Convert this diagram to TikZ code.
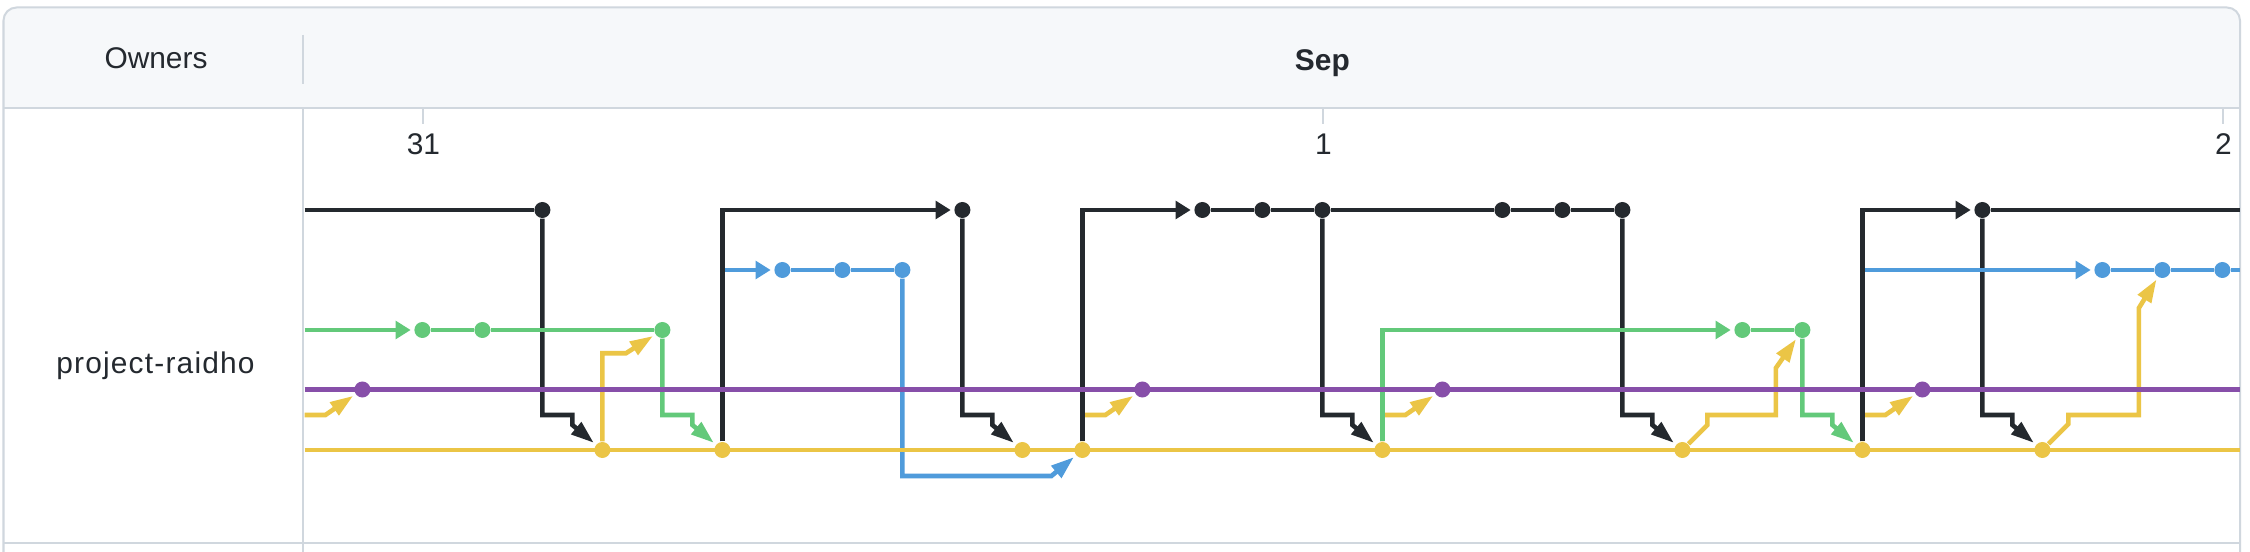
\documentclass[tikz,border=0pt]{standalone}
\usepackage{fontspec}
\setmainfont{Liberation Sans}
\newfontfamily\repofont[LetterSpace=4]{Liberation Sans}
\usetikzlibrary{arrows.meta,calc,backgrounds,positioning}
\definecolor{cblack}{HTML}{24292E}
\definecolor{cblue}{HTML}{4F9BDB}
\definecolor{cgreen}{HTML}{63C97A}
\definecolor{cpurple}{HTML}{874FA9}
\definecolor{cyellow}{HTML}{EBC546}
\definecolor{cborder}{HTML}{D0D7DE}
\definecolor{cheader}{HTML}{F6F8FA}
\definecolor{ctext}{HTML}{24292F}
\tikzset{
  lane/.style={line width=0.046cm},
  dot/.style={circle, fill=#1, inner sep=0pt, minimum size=0.16cm},
  lanetip/.style={-{Triangle[length=0.15cm,width=0.175cm]}, shorten >=0.03cm},
  mergetip/.style={-{Triangle[length=0.23cm,width=0.15cm]}, shorten >=0.025cm},
  gridline/.style={draw=cborder, line width=0.02cm},
  txt/.style={font=\fontsize{8.5}{10}\selectfont, text=ctext, inner sep=0pt, anchor=base},
}

\begin{document}
\begin{tikzpicture}[x=0.01cm, y=-0.01cm]
  \useasboundingbox (0,0) rectangle (2250,552);

  % Labels
  \node[txt] (owners) at (156,68.3) {Owners};
  \node[txt, font=\fontsize{8.5}{10}\selectfont\bfseries] (sep) at (1322.4,70.7) {Sep};
  \node[txt] (repo) at (155.5,373.3) {\repofont project-raidho};
  \foreach \k/\d in {2/31,17/1,32/2}
    \node[txt] (day\d) at ({303.4+60*\k},155) {\d};

  % Commits
  \foreach \k in {4,11,15,16,17,20,21,22,28}
    \node[dot=cblack] (blk\k) at ({302.4+60*\k},210) {};
  \foreach \k in {8,9,10,30,31,32}
    \node[dot=cblue] (blu\k) at ({302.4+60*\k},270) {};
  \foreach \k in {2,3,6,24,25}
    \node[dot=cgreen] (grn\k) at ({302.4+60*\k},330) {};
  \foreach \k in {1,14,19,27}
    \node[dot=cpurple] (pur\k) at ({302.4+60*\k},389.5) {};
  \foreach \k in {5,7,12,13,18,23,26,29}
    \node[dot=cyellow] (yel\k) at ({302.4+60*\k},450) {};

  % Lane ends
  \coordinate (blkL) at (304.5,210);
  \coordinate (blkR) at (2240,210);
  \coordinate (bluR) at (2240,270);
  \coordinate (grnL) at (304.5,330);
  \coordinate (purL) at (304.5,389.5);
  \coordinate (purR) at (2240,389.5);
  \coordinate (yelS) at (304.5,415);
  \coordinate (yelL) at (304.5,450);
  \coordinate (yelR) at (2240,450);

  \begin{pgfonlayer}{background}
    % Table
    \fill[white] (0,0) rectangle (2250,552);
    \fill[cheader, rounded corners=0.13cm] (3.5,7.5) rectangle (2240,200);
    \fill[white] (3.5,108.3) rectangle (2240,552);
    \draw[gridline, rounded corners=0.13cm] (3.5,560) -- (3.5,7.5) -- (2240,7.5) -- (2240,560);
    \draw[gridline] (3.5,108.3) -- (2240,108.3);
    \draw[gridline] (3.5,543.5) -- (2240,543.5);
    \draw[gridline] (303.3,35) -- (303.3,84);
    \draw[gridline] (303.3,108.3) -- (303.3,552);
    \foreach \k in {2,17,32}
      \draw[gridline] ({303.4+60*\k},108.3) -- ++(0,16);

    % Yellow side branches
    \draw[lane, cyellow, mergetip] (yelS) -- ($(pur1)+(-37,25.5)$) -- (pur1);
    \foreach \s/\t in {yel13/pur14, yel18/pur19, yel26/pur27}
      \draw[lane, cyellow, mergetip] (\s) |- ($(\t)+(-37,25.5)$) -- (\t);
    \draw[lane, cyellow, mergetip] (yel5) |- ($(grn6)+(-36.5,23.3)$) -- (grn6);
    \draw[lane, cyellow, mergetip] (yel23) -- ++(25,-25) -- ++(0,-10) -| ($(grn25)+(-26.5,38)$) -- (grn25);
    \draw[lane, cyellow, mergetip] (yel29) -- ++(26,-26) -- ++(0,-9) -| ($(blu31)+(-23.5,38)$) -- (blu31);

    % Merges into the yellow lane
    \foreach \s/\t/\c in {blk4/yel5/cblack, grn6/yel7/cgreen, blk11/yel12/cblack, blk17/yel18/cblack,
                          blk22/yel23/cblack, grn25/yel26/cgreen, blk28/yel29/cblack}
      \draw[lane, \c, mergetip] (\s) |- ($(\t)+(-30,-35)$) -- ($(\t)+(-30,-25)$) -- (\t);
    \draw[lane, cblue, mergetip] (blu10) |- ($(yel13)+(-31,26)$) -- (yel13);

    % Branches out of the yellow lane
    \draw[lane, cblue, lanetip] (yel7) |- (blu8);
    \draw[lane, cblue, lanetip] (yel26) |- (blu30);
    \draw[lane, cgreen, lanetip] (yel18) |- (grn24);
    \draw[lane, cblack, lanetip] (yel7) |- (blk11);
    \draw[lane, cblack, lanetip] (yel13) |- (blk15);
    \draw[lane, cblack, lanetip] (yel26) |- (blk28);

    % Lanes
    \draw[lane, cpurple] (purL) -- (purR);
    \draw[lane, cyellow] (yelL) -- (yelR);
    \draw[lane, cblack] (blkL) -- (blk4);
    \draw[lane, cblack] (blk15) -- (blk16) -- (blk17) -- (blk20) -- (blk21) -- (blk22);
    \draw[lane, cblack] (blk28) -- (blkR);
    \draw[lane, cblue] (blu8) -- (blu9) -- (blu10);
    \draw[lane, cblue] (blu30) -- (blu31) -- (blu32) -- (bluR);
    \draw[lane, cgreen, lanetip] (grnL) -- (grn2);
    \draw[lane, cgreen] (grn2) -- (grn3) -- (grn6);
    \draw[lane, cgreen] (grn24) -- (grn25);
  \end{pgfonlayer}
\end{tikzpicture}
\end{document}
